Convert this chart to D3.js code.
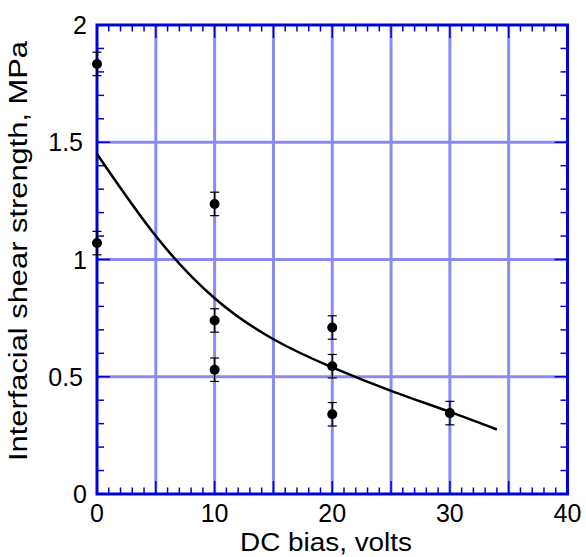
<!DOCTYPE html>
<html>
<head>
<meta charset="utf-8">
<script src="https://cdn.jsdelivr.net/npm/d3@7"></script>
<style>
  body { margin: 0; background: #fff; }
  svg { display: block; }
  text { font-family: "Liberation Sans", Arial, sans-serif; fill: #000; }
</style>
</head>
<body>
<svg id="chart" width="586" height="557"></svg>
<script>
// ---- data ----
const pointX   = [0, 0, 10, 10, 10, 20, 20, 20, 30];
const pointY   = [1.834, 1.07, 1.237, 0.74, 0.53, 0.71, 0.545, 0.34, 0.345];
const pointErr = [0.05, 0.05, 0.05, 0.05, 0.05, 0.05, 0.05, 0.05, 0.05];

const curveX = [0, 5, 10, 15, 20, 25, 30, 34];
const curveY = [1.45, 1.10, 0.835, 0.66, 0.54, 0.44, 0.35, 0.275];

const xTicks = [0, 10, 20, 30, 40];
const yTicks = [0, 0.5, 1, 1.5, 2];
const xTickLabels = ["0", "10", "20", "30", "40"];
const yTickLabels = ["0", "0.5", "1", "1.5", "2"];
const xGrid = [5, 10, 15, 20, 25, 30, 35];
const yGrid = [0.5, 1, 1.5];
const xTitle = "DC bias, volts";
const yTitle = "Interfacial shear strength, MPa";

// ---- layout ----
const W = 586, H = 557;
const m = { left: 97, right: 18.5, top: 25, bottom: 63 };
const svg = d3.select("#chart");
const x = d3.scaleLinear().domain([0, 40]).range([m.left, W - m.right]);
const y = d3.scaleLinear().domain([0, 2]).range([H - m.bottom, m.top]);

const blue = "#0000dd";
const gridCol = "#8a8af0";

// grid
svg.append("g").selectAll("line").data(xGrid).join("line")
  .attr("x1", d => x(d)).attr("x2", d => x(d))
  .attr("y1", y(0)).attr("y2", y(2))
  .attr("stroke", gridCol).attr("stroke-width", 3);
svg.append("g").selectAll("line").data(yGrid).join("line")
  .attr("y1", d => y(d)).attr("y2", d => y(d))
  .attr("x1", x(0)).attr("x2", x(40))
  .attr("stroke", gridCol).attr("stroke-width", 3);

// inward ticks on all four sides
const xMinor = d3.range(0, 41, 1);
const yMinor = d3.range(0, 21, 1).map(v => v / 10);
const tickG = svg.append("g").attr("stroke", blue).attr("stroke-width", 1.5);
const xLen = d => (d % 5 === 0 ? 13 : 6.5);
tickG.selectAll(".xb").data(xMinor).join("line").attr("class", "xb")
  .attr("x1", d => x(d)).attr("x2", d => x(d))
  .attr("y1", y(0)).attr("y2", d => y(0) - xLen(d));
tickG.selectAll(".xt").data(xMinor).join("line").attr("class", "xt")
  .attr("x1", d => x(d)).attr("x2", d => x(d))
  .attr("y1", y(2)).attr("y2", d => y(2) + xLen(d));
const yLen = (d, i) => (i % 5 === 0 ? 13 : 7);
tickG.selectAll(".yl").data(yMinor).join("line").attr("class", "yl")
  .attr("y1", d => y(d)).attr("y2", d => y(d))
  .attr("x1", x(0)).attr("x2", (d, i) => x(0) + yLen(d, i));
tickG.selectAll(".yr").data(yMinor).join("line").attr("class", "yr")
  .attr("y1", d => y(d)).attr("y2", d => y(d))
  .attr("x1", x(40)).attr("x2", (d, i) => x(40) - yLen(d, i));

// frame
svg.append("rect")
  .attr("x", x(0)).attr("y", y(2))
  .attr("width", x(40) - x(0)).attr("height", y(0) - y(2))
  .attr("fill", "none").attr("stroke", blue).attr("stroke-width", 3);

// fitted curve
const line = d3.line().x(d => x(d[0])).y(d => y(d[1])).curve(d3.curveNatural);
svg.append("path")
  .datum(curveX.map((v, i) => [v, curveY[i]]))
  .attr("d", line)
  .attr("fill", "none").attr("stroke", "#000").attr("stroke-width", 2.5);

// error bars and points
const pts = pointX.map((v, i) => ({ x: v, y: pointY[i], e: pointErr[i] }));
const eb = svg.append("g").attr("stroke", "#000").attr("stroke-width", 1.2);
eb.selectAll(".v").data(pts).join("line").attr("class", "v")
  .attr("x1", d => x(d.x)).attr("x2", d => x(d.x))
  .attr("y1", d => y(d.y - d.e)).attr("y2", d => y(d.y + d.e));
eb.selectAll(".c1").data(pts).join("line").attr("class", "c1")
  .attr("x1", d => x(d.x) - 4.5).attr("x2", d => x(d.x) + 4.5)
  .attr("y1", d => y(d.y + d.e)).attr("y2", d => y(d.y + d.e));
eb.selectAll(".c2").data(pts).join("line").attr("class", "c2")
  .attr("x1", d => x(d.x) - 4.5).attr("x2", d => x(d.x) + 4.5)
  .attr("y1", d => y(d.y - d.e)).attr("y2", d => y(d.y - d.e));
svg.append("g").selectAll("circle").data(pts).join("circle")
  .attr("cx", d => x(d.x)).attr("cy", d => y(d.y)).attr("r", 5)
  .attr("fill", "#000");

// tick labels
svg.append("g").selectAll("text").data(xTicks).join("text")
  .attr("x", d => x(d)).attr("y", 522)
  .attr("text-anchor", "middle").attr("font-size", 25)
  .text((d, i) => xTickLabels[i]);
svg.append("g").selectAll("text").data(yTicks).join("text")
  .attr("x", (d, i) => (yTickLabels[i].includes(".") ? 83 : 87))
  .attr("y", d => y(d) + 9)
  .attr("text-anchor", "end").attr("font-size", 25)
  .text((d, i) => yTickLabels[i]);

// axis titles
svg.append("text")
  .attr("x", 326).attr("y", 551)
  .attr("text-anchor", "middle").attr("font-size", 25.5)
  .attr("textLength", 172).attr("lengthAdjust", "spacingAndGlyphs")
  .text(xTitle);
svg.append("text")
  .attr("transform", "translate(27,251) rotate(-90)")
  .attr("text-anchor", "middle").attr("font-size", 25.5)
  .attr("textLength", 420).attr("lengthAdjust", "spacingAndGlyphs")
  .text(yTitle);
</script>
</body>
</html>
